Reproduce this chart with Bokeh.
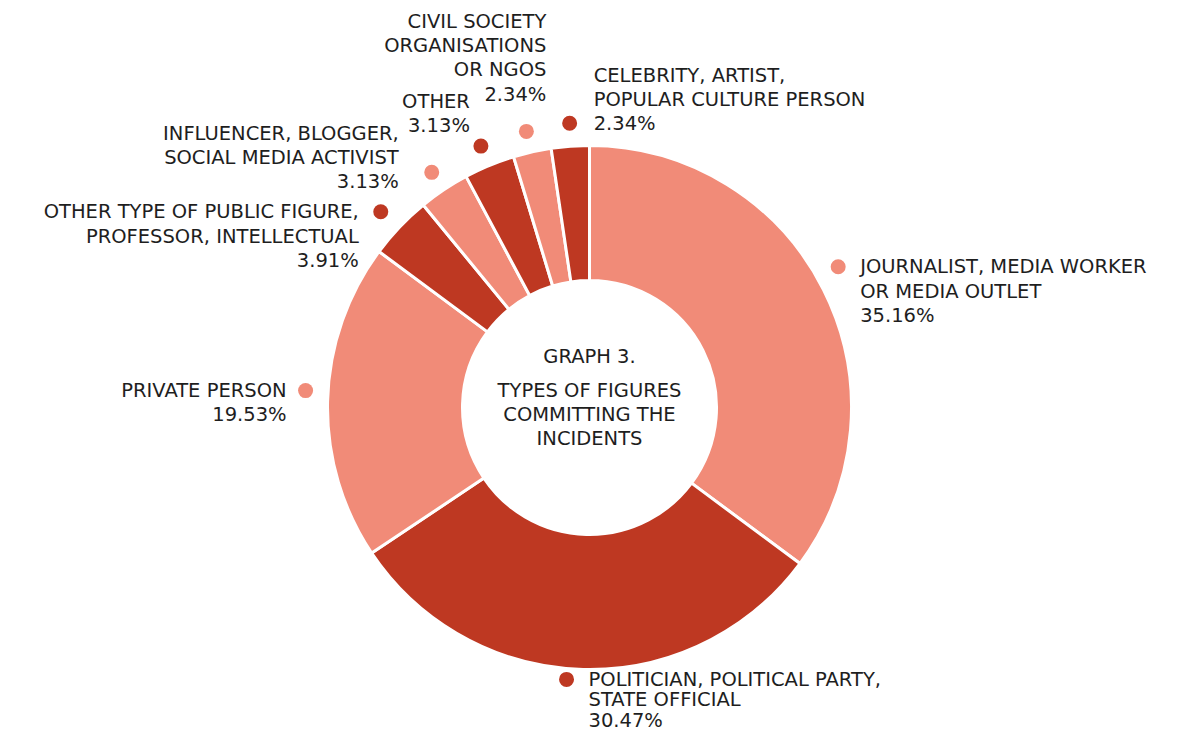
import math
from bokeh.plotting import figure
from bokeh.models import Range1d
from bokeh.core.properties import value
from bokeh.embed import file_html
from bokeh.resources import INLINE

# ---- data ----
categories = [
    "JOURNALIST, MEDIA WORKER\nOR MEDIA OUTLET",
    "POLITICIAN, POLITICAL PARTY,\nSTATE OFFICIAL",
    "PRIVATE PERSON",
    "OTHER TYPE OF PUBLIC FIGURE,\nPROFESSOR, INTELLECTUAL",
    "INFLUENCER, BLOGGER,\nSOCIAL MEDIA ACTIVIST",
    "OTHER",
    "CIVIL SOCIETY\nORGANISATIONS\nOR NGOS",
    "CELEBRITY, ARTIST,\nPOPULAR CULTURE PERSON",
]
shares = [35.16, 30.47, 19.53, 3.91, 3.13, 3.13, 2.34, 2.34]
center_title = ["GRAPH 3.", "TYPES OF FIGURES", "COMMITTING THE", "INCIDENTS"]

# ---- styling / layout (picture pixel space) ----
SALMON = "#F18B78"
DARK = "#BE3822"
TEXT = "#1E1E1E"
FONT = value("DejaVu Sans")
FS = "19.5px"
W, H = 1171, 732
CX, CY = 589, 407            # donut centre (px)
R_OUT, R_IN = 262, 127
R_DOT = 284
LINE = 24.3

def py(page_y):
    return H - page_y

# per label: (align, dx from dot, first-line dy from dot, dot nudge x, dot nudge y, line step)
layout = [
    ("left", 22, 0, -5, -13, LINE),
    ("left", 22, 0, -16, -12, 20.5),
    ("right", -19, 0, 0, -10, LINE),
    ("right", -22, 0, -3, 0, LINE),
    ("right", -33, -39, 0, 1, LINE),
    ("right", -11, -45, 0, 1, LINE),
    ("right", 20, -110, -1, 1, LINE),
    ("left", 24, -48, 1, -1, LINE),
]

p = figure(width=W, height=H, x_range=Range1d(0, W), y_range=Range1d(0, H),
           output_backend="svg", toolbar_location=None, min_border=0,
           outline_line_color=None, background_fill_color="white")
p.axis.visible = False
p.grid.visible = False

total = sum(shares)
colors = [SALMON if i % 2 == 0 else DARK for i in range(len(shares))]
starts, ends, mids = [], [], []
cum = 0.0
for s in shares:
    a0 = math.pi / 2 - 2 * math.pi * cum / total
    a1 = math.pi / 2 - 2 * math.pi * (cum + s) / total
    starts.append(a0)
    ends.append(a1)
    mids.append((a0 + a1) / 2)
    cum += s

p.annular_wedge(x=CX, y=py(CY), inner_radius=R_IN, outer_radius=R_OUT,
                start_angle=starts, end_angle=ends, direction="clock",
                fill_color=colors, line_color="white", line_width=3)

dot_x, dot_y = [], []
lx = {"left": [], "right": []}
ly = {"left": [], "right": []}
lt = {"left": [], "right": []}
for i, (cat, s) in enumerate(zip(categories, shares)):
    align, dx, dy, nx, ny, step = layout[i]
    px_ = CX + R_DOT * math.cos(mids[i]) + nx
    py_ = CY - R_DOT * math.sin(mids[i]) + ny
    dot_x.append(px_)
    dot_y.append(py(py_))
    lines = cat.split("\n") + [f"{s:.2f}%"]
    for k, ln in enumerate(lines):
        lx[align].append(px_ + dx)
        ly[align].append(py(py_ + dy + k * step))
        lt[align].append(ln)

p.scatter(x=dot_x, y=dot_y, size=15, fill_color=colors, line_color=None)

for align in ("left", "right"):
    p.text(x=lx[align], y=ly[align], text=lt[align], text_align=align,
           text_baseline="middle", text_font=FONT, text_font_size=FS,
           text_color=TEXT)

cy_lines = [CY - 51, CY - 17, CY + 7, CY + 31]
p.text(x=[CX] * 4, y=[py(v) for v in cy_lines], text=center_title,
       text_align="center", text_baseline="middle", text_font=FONT,
       text_font_size=FS, text_color=TEXT)

open("out.html", "w").write(file_html(p, INLINE))
